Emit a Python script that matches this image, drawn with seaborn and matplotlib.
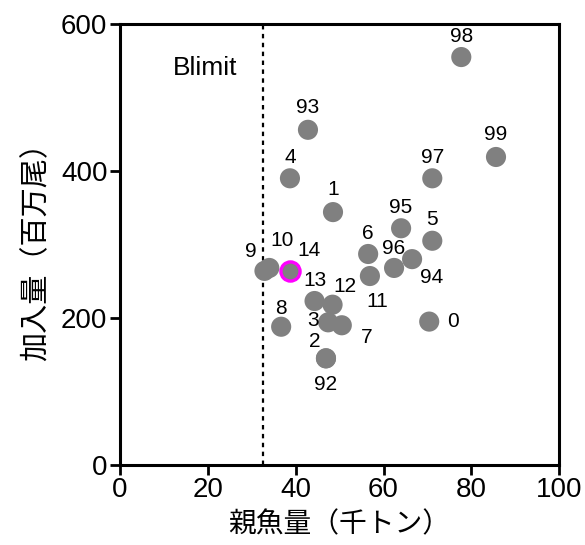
import pandas as pd
import seaborn as sns
import matplotlib.pyplot as plt

# year labels, spawning biomass (kt), recruitment (million fish)
years = ["98", "99", "97", "93", "4", "1", "95", "5", "6", "96", "94", "11",
         "9", "10", "14", "13", "12", "3", "7", "8", "2", "92", "0"]
ssb = [77.7, 85.6, 71.1, 42.8, 38.7, 48.5, 64.0, 71.1, 56.5, 62.4, 66.5, 56.9,
       32.9, 34.0, 38.7, 44.3, 48.4, 47.4, 50.5, 36.7, 46.9, 46.9, 70.4]
recruits = [555, 419, 390, 456, 390, 344, 322, 305, 287, 268, 280, 257,
            264, 268, 264, 223, 218, 194, 190, 188, 145, 145, 195]
blimit = 32.6
latest = "14"

# label offsets in points (dx, dy)
offsets = {"98": (0, 15), "99": (0, 16), "97": (0, 15), "93": (0, 16), "4": (0, 15),
           "1": (0, 16), "95": (0, 15), "5": (0, 15), "6": (0, 15), "96": (0, 14),
           "94": (14, -13), "11": (5, -18), "9": (-10, 14), "10": (9, 20), "14": (14, 15),
           "13": (0, 15), "12": (9, 13), "3": (-11, 1), "7": (18, -9), "8": (0, 13),
           "2": (-8, 12), "92": (0, -19), "0": (17, 0)}

df = pd.DataFrame({"year": years, "ssb": ssb, "rec": recruits})

sns.set_style("ticks", {"axes.edgecolor": "black", "xtick.color": "black",
                        "ytick.color": "black", "text.color": "black",
                        "axes.labelcolor": "black"})
plt.rcParams["font.family"] = ["Liberation Sans", "Noto Sans CJK JP", "DejaVu Sans"]
jp = ["Noto Sans CJK JP", "DejaVu Sans"]

fig = plt.figure(figsize=(5.85, 5.45), dpi=100)
ax = fig.add_axes([0.205, 0.147, 0.751, 0.809])

sns.scatterplot(data=df[df.year != latest], x="ssb", y="rec", s=210, color="#808080",
                edgecolor="none", ax=ax, zorder=3)
sns.scatterplot(data=df[df.year == latest], x="ssb", y="rec", s=190, color="#808080",
                edgecolor="#ff00ff", linewidth=2.4, ax=ax, zorder=4)

for _, r in df.iterrows():
    dx, dy = offsets[r.year]
    ax.annotate(r.year, (r.ssb, r.rec), xytext=(dx, dy), textcoords="offset points",
                ha="center", va="center", fontsize=15, zorder=5)

ax.axvline(blimit, color="black", linestyle=(0, (2, 2)), linewidth=1.6, zorder=2)
ax.text(19.4, 540, "Blimit", fontsize=19, ha="center", va="center")

ax.set_xlim(0, 100)
ax.set_ylim(0, 600)
ax.set_xticks(range(0, 101, 20))
ax.set_yticks(range(0, 601, 200))
ax.tick_params(labelsize=20, width=2, length=7, pad=2, direction="out", colors="black")
for sp in ax.spines.values():
    sp.set_linewidth(2.2)
    sp.set_color("black")
ax.set_xlabel("親魚量（千トン）", fontsize=20, family=jp, labelpad=4)
ax.set_ylabel("加入量（百万尾）", fontsize=21, family=jp, labelpad=7)

fig.savefig("out.png", dpi=100)
